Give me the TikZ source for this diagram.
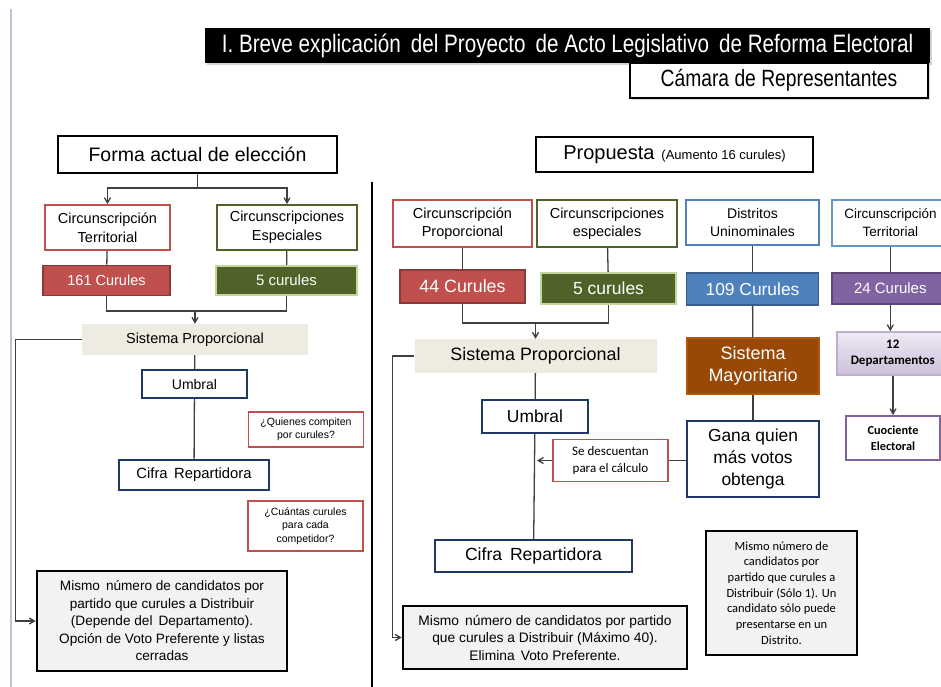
\documentclass[tikz,border=0pt]{standalone}
\usepackage{fontspec}
\setmainfont{Liberation Sans}
\newfontfamily\narrowfont[FakeStretch=0.82]{Liberation Sans}
\newfontfamily\calfont{Carlito}
\usepackage{xcolor}
\usepackage{tikz}
\usetikzlibrary{arrows, arrows.meta,calc,fit,shapes,positioning,shadows}
\definecolor{rojo}{HTML}{C0504D}
\definecolor{rojoborde}{HTML}{8C3836}
\definecolor{verde}{HTML}{4F6228}
\definecolor{verdeclaro}{HTML}{C3D69B}
\definecolor{azul}{HTML}{4F81BD}
\definecolor{azulborde}{HTML}{385D8A}
\definecolor{morado}{HTML}{8064A2}
\definecolor{moradoborde}{HTML}{5C4776}
\definecolor{lila}{HTML}{EEEAF4}
\definecolor{lilaosc}{HTML}{CCC0DA}
\definecolor{naranja}{HTML}{984807}
\definecolor{marino}{HTML}{1F3864}
\definecolor{beige}{HTML}{EEECE1}
\definecolor{gris}{HTML}{F2F2F2}
\definecolor{linea}{HTML}{3F3F3F}
\definecolor{marco}{HTML}{B9C3D3}
\newcommand{\tam}[2]{\fontsize{#1}{#2}\selectfont}
\tikzset{REF style/.style={>={angle 60},every node/.style={inner sep=2pt,align=center}},
	wh/.style 2 args={minimum width=#1pt,minimum height=#2pt}}

\begin{document}
\begin{tikzpicture}[x=1pt,y=-1pt,REF style]
	\tikzstyle{caja}=[draw,line width=1.8pt,fill=white,text=black]
	\tikzstyle{roja}=[caja,draw=rojo]
	\tikzstyle{verdeb}=[caja,draw=verde]
	\tikzstyle{azulb}=[caja,draw=azul]
	\tikzstyle{marinob}=[caja,draw=marino]
	\tikzstyle{nota}=[draw,line width=2.6pt,fill=gris,text=black]
	\tikzstyle{curul}=[line width=1.6pt,text=white]
	\tikzstyle{conector}=[draw=linea,line width=1.3pt]
	\useasboundingbox (0,0) rectangle (941,687);
	
	% marco y division
	\draw[marco,line width=1.5pt] (11,9) -- (11,687);
	\draw[black,line width=1.6pt] (372,182) -- (372,687);
	
	% encabezado
	\node[fill=black,text=white,wh={725}{35},font=\narrowfont\tam{25.2}{28},
	drop shadow={shadow xshift=1.5pt,shadow yshift=-2pt,opacity=0.35}] (titulo) at (567.5,45.5)
	{I. Breve explicación\, del Proyecto\, de Acto Legislativo\, de Reforma Electoral};
	\node[draw,line width=1.3pt,fill=white,wh={298}{35},font=\narrowfont\tam{23.5}{27},
	drop shadow={shadow xshift=1.5pt,shadow yshift=-2pt,opacity=0.3}] (camara) at (779,80.5)
	{Cámara de Representantes};
	
	% forma actual
	\node[draw,line width=2pt,wh={279}{36},font=\tam{19.5}{23}] (forma) at (197.5,154.5) {Forma actual de elección};
	\node[roja,wh={125}{45},font=\tam{14.5}{19}] (terr) at (107.5,227.5) {Circunscripción\\Territorial};
	\node[verdeb,wh={140}{45},font=\tam{14.5}{19}] (esp) at (287,227.5) {Circunscripciones\\Especiales};
	\node[curul,fill=rojo,draw=rojoborde,wh={127}{30},font=\tam{14.5}{17}] (c161) at (106.5,280.5) {161 Curules};
	\node[curul,fill=verde,draw=verdeclaro,line width=2.2pt,wh={141}{29},font=\tam{15}{17}] (c5) at (286.5,280.5) {5 curules};
	\node[fill=beige,wh={226}{31},font=\tam{14.5}{17}] (sp) at (195,339.5) {Sistema Proporcional};
	\node[marinob,wh={105}{28},font=\tam{14}{17}] (umb) at (194.5,384) {Umbral};
	\node[marinob,wh={150}{30},font=\tam{14.8}{17}] (cif) at (194,475) {Cifra\, Repartidora};
	\node[roja,line width=1.6pt,wh={115}{35},font=\tam{10.5}{13}] (quien) at (306,429.5) {¿Quienes compiten\\por curules?};
	\node[roja,line width=1.6pt,wh={115}{50},font=\tam{10.5}{13.5}] (cuantas) at (305.5,526) {¿Cuántas curules\\para cada\\competidor?};
	\node[nota,wh={250}{100},font=\tam{13.6}{17.5}] (mismo) at (162,621)
	{Mismo\, número de candidatos por\\partido que curules a Distribuir\\(Depende del\, Departamento).\\Opción de Voto Preferente y listas\\cerradas};
	
	\coordinate (s) at (197.5,188);
	\coordinate (m) at (195,311);
	\draw[conector] (forma) -- (s);
	\draw[conector,->] (s) -| (terr);
	\draw[conector,->] (s) -| (esp);
	\path[conector] (terr) edge (c161) (esp) edge (c5);
	\draw[conector] (c161) |- (m) -| (c5);
	\draw[conector,->] (m) -- (sp);
	\draw[conector,->] (sp.west) -- ++(-66,0) |- (mismo.west);
	\path[conector] (sp) edge (umb) (umb) edge (cif);
	
	% propuesta
	\node[draw,line width=2pt,wh={277}{35},font=\tam{20}{23}] (prop) at (674.5,154.5)
	{Propuesta\hspace{7pt}{\tam{13}{15}(Aumento 16 curules)}};
	\node[roja,wh={139}{47},font=\tam{14.5}{18}] (cprop) at (462.5,223.5) {Circunscripción\\Proporcional};
	\node[verdeb,wh={140}{47},font=\tam{14.5}{18}] (espr) at (607,223.5) {Circunscripciones\\especiales};
	\node[azulb,wh={133}{45},font=\tam{14}{18}] (dist) at (752.5,222.5) {Distritos\\Uninominales};
	\node[caja,draw=azul!85!white,wh={117}{46},anchor=west,font=\tam{13.5}{18}] (terrr) at (831,223) {Circunscripción\\Territorial};
	\node[curul,fill=rojo,draw=rojoborde,wh={125}{33},font=\tam{17.8}{20}] (c44) at (462.5,286.5) {44 Curules};
	\node[curul,fill=verde,draw=verdeclaro,line width=2.2pt,wh={135}{31},font=\tam{17.5}{20}] (c5r) at (608.5,288.5) {5 curules};
	\node[curul,fill=azul,draw=azulborde,wh={132}{32},font=\tam{17.4}{20}] (c109) at (752.5,289) {109 Curules};
	\node[curul,fill=morado,draw=moradoborde,wh={117}{31},anchor=west,font=\tam{15}{18}] (c24) at (831,288.5) {24 Curules};
	\node[fill=beige,wh={242}{34},font=\tam{17.9}{20}] (spr) at (535.5,356) {Sistema Proporcional};
	\node[marinob,wh={106}{33},font=\tam{17.4}{20}] (umbr) at (535,416.5) {Umbral};
	\node[marinob,wh={197}{32},font=\tam{17.6}{20}] (cifr) at (533.5,556) {Cifra\, Repartidora};
	\node[roja,wh={115}{42},font=\calfont\tam{13}{17}] (desc) at (610.5,460.5) {Se descuentan\\para el cálculo};
	\node[fill=naranja,draw=naranja!75!orange,line width=1.4pt,text=white,wh={132}{56},font=\tam{18}{22}] (mayor) at (753,366) {Sistema\\Mayoritario};
	\node[marinob,wh={132}{76},font=\tam{17.4}{22}] (gana) at (753,459) {Gana quien\\más votos\\obtenga};
	\node[draw=lilaosc!80!morado,line width=1.6pt,top color=lila,bottom color=lilaosc,wh={112}{43},anchor=west,
	font=\calfont\bfseries\tam{13}{16}] (dep) at (836,353.5) {12\\Departamentos};
	\node[caja,draw=morado,wh={94}{44},font=\calfont\bfseries\tam{12.3}{16}] (cuoc) at (893,438) {Cuociente\\Electoral};
	\node[nota,wh={284}{63},font=\tam{13.8}{17.5}] (mismor) at (545,637.5)
	{Mismo\, número de candidatos por partido\\que curules a Distribuir (Máximo 40).\\Elimina\, Voto Preferente.};
	\node[nota,wh={151}{124},font=\calfont\tam{12.5}{15.7}] (mismod) at (781.5,593)
	{Mismo número de\\candidatos por\\partido que curules a\\Distribuir (Sólo 1). Un\\candidato sólo puede\\presentarse en un\\Distrito.};
	
	\coordinate (mr) at (535.5,323);
	\path[conector] (cprop) edge (c44) (espr) edge (c5r) (dist) edge (c109);
	\draw[conector] (c44) |- (mr) -| (c5r);
	\draw[conector,->] (mr) -- (spr);
	\draw[conector,->] (spr.west) -- ++(-22,0) |- (mismor.west);
	\path[conector] (spr) edge (umbr) (umbr) edge (cifr);
	\draw[conector,->,shorten >=2pt] (desc.west) -- (desc.west -| umbr.south);
	\draw[conector] (desc.east) -- (desc.east -| gana.west);
	\path[conector] (c109) edge (mayor) (mayor) edge (gana);
	\draw[conector] (terrr.south -| c24.north) -- (c24.north);
	\draw[conector,->] (c24.south) -- (c24.south |- dep.north);
	\draw[conector,->] (dep.south -| cuoc.north) -- (cuoc.north);
	%	\node[fit=(cprop) (mismod)] (propuesta) {};
\end{tikzpicture}
\end{document}
